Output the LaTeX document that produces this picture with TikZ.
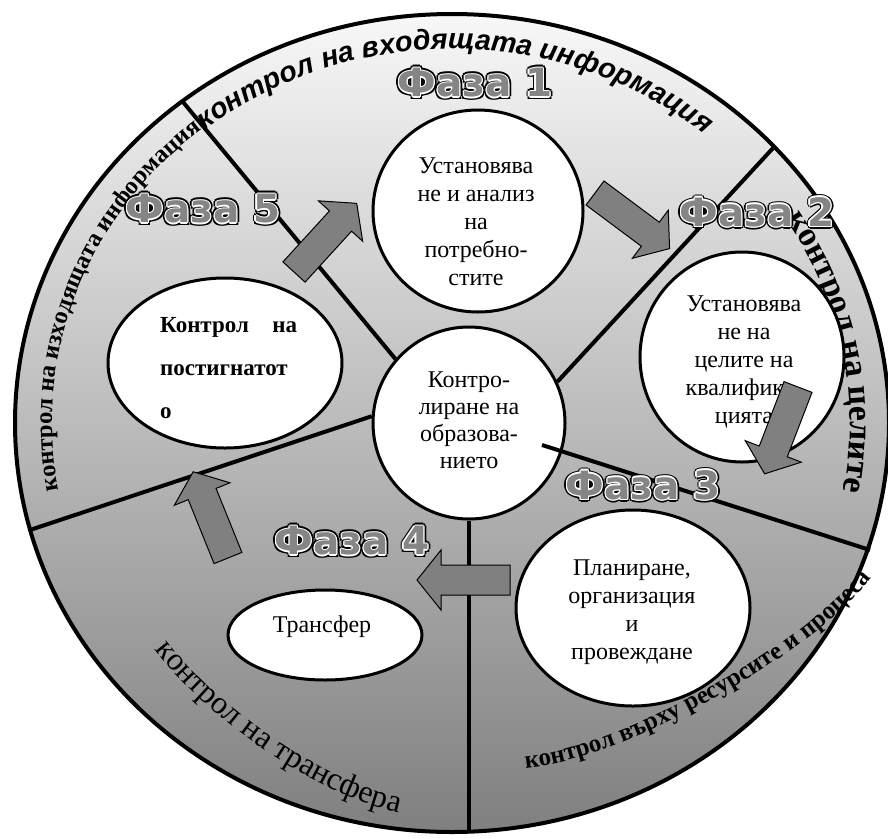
\documentclass[tikz,border=0pt]{standalone}
\usepackage{fontspec}
\setmainfont{Liberation Serif}
\newfontfamily\rimsans{Liberation Sans}
\newfontfamily\rimserif{Liberation Serif}
\newfontfamily\fazafont{DejaVu Sans}
\usetikzlibrary{shapes.geometric,decorations.text}
\pgfdeclarelayer{bg}
\pgfsetlayers{bg,main}
% outlined phase titles
\newdimen\halod
\newcommand\halo[2]{%
  \rlap{\kern\halod\textcolor{#1}{#2}}\rlap{\kern-\halod\textcolor{#1}{#2}}%
  \rlap{\raisebox{\halod}{\textcolor{#1}{#2}}}\rlap{\raisebox{-\halod}{\textcolor{#1}{#2}}}%
  \rlap{\kern.7\halod\raisebox{.7\halod}{\textcolor{#1}{#2}}}%
  \rlap{\kern-.7\halod\raisebox{.7\halod}{\textcolor{#1}{#2}}}%
  \rlap{\kern.7\halod\raisebox{-.7\halod}{\textcolor{#1}{#2}}}%
  \rlap{\kern-.7\halod\raisebox{-.7\halod}{\textcolor{#1}{#2}}}}
\newcommand\faza[1]{\halod=3pt\halo{black}{#1}\halod=1.3pt\halo{white}{#1}\textcolor{black!48}{#1}}
\begin{document}
\begin{tikzpicture}[x=1pt,y=-1pt,line join=round,
    rim/.style={line width=4pt},
    sector/.style={line width=4pt},
    faze/.style={shape=ellipse,draw,line width=3pt,fill=white,inner sep=0pt},
    fazetext/.style={align=center,inner sep=0pt,font=\fontsize{24}{28}\selectfont},
    fazatitle/.style={inner sep=0pt,font=\fontsize{39}{42}\selectfont\fazafont\bfseries},
    arrowbody/.style={fill=black!50,draw=black,line width=1pt,line join=miter},
    pics/blockarrow/.style={code={\draw[arrowbody] (0,-15)--(69,-15)--(69,-30)--(93,0)--(69,30)--(69,15)--(0,15)--cycle;}}]
\useasboundingbox (0,0) rectangle (888,838);
% the phases
\node[faze,shape=circle,minimum size=192] (ctr) at (469,423) {};
\node[faze,minimum width=210,minimum height=202] (f1) at (478,211) {};
\node[faze,minimum width=204,minimum height=210] (f2) at (742,357) {};
\node[faze,minimum width=234,minimum height=196] (f3) at (633,608) {};
\node[faze,minimum width=194,minimum height=90] (f4) at (325,635) {};
\node[faze,minimum width=234,minimum height=170] (f5) at (225,363) {};
\node[fazetext,font=\fontsize{24}{27}\selectfont] (ctrtext) at (469,420) {Контро-\\лиране на\\образова-\\нието};
\node[fazetext] (f1text) at (476,222) {Установява\\не и анализ\\на\\потребно-\\стите};
\node[fazetext] (f2text) at (744,362) {Установява\\не на\\целите на\\квалифика-\\цията};
\node[fazetext] (f3text) at (632,612) {Планиране,\\организация\\и\\провеждане};
\node[fazetext] (f4text) at (322,627) {Трансфер};
\node[align=left,inner sep=0pt,anchor=west,font=\bfseries\fontsize{23}{43}\selectfont] (f5text) at (160,368)
  {\makebox[137pt][s]{Контрол на}\\постигнатот\\о};
% disc, sectors, rim texts
\coordinate (rim1) at (183,102);
\coordinate (rim2) at (774,147);
\coordinate (rim3) at (870,550);
\coordinate (rim4) at (469,832);
\coordinate (rim5) at (30,530);
\coordinate (cut3) at (542,445);
\begin{pgfonlayer}{bg}
\draw[rim,top color=black!3,bottom color=black!50] (452,423) ellipse [x radius=437,y radius=409];
\draw[sector] (rim1) -- (ctr.139);
\draw[sector] (rim2) -- (ctr.25);
\draw[sector] (rim4) -- (ctr.south);
\draw[sector] (rim5) -- (ctr.176);
\path[decorate,decoration={text along path,text align=center,
  text={|\rimsans\fontsize{28.5}{30}\selectfont\bfseries\itshape|контрол на входящата информация}}]
  (452,423) ++(-155.5:397 and 374) arc[start angle=-155.5,end angle=-23.5,x radius=397,y radius=374];
\path[decorate,decoration={text along path,text align=center,
  text={|\rimserif\upshape\fontsize{34}{36}\selectfont\bfseries|контрол на целите}}]
  (452,423) ++(-60:398 and 374) arc[start angle=-60,end angle=38,x radius=398,y radius=374];
\path[decorate,decoration={text along path,text align=center,
  text={|\rimserif\upshape\fontsize{24.5}{26}\selectfont\bfseries|контрол на изходящата информация}}]
  (452,423) ++(-215:400 and 376) arc[start angle=-215,end angle=-105,x radius=400,y radius=376];
\path[decorate,decoration={text along path,text align=center,
  text={|\rimserif\upshape\fontsize{25}{27}\selectfont\bfseries|контрол върху ресурсите и процеса}}]
  (528,768) .. controls (628,758) and (810,655) .. (870,580);
\path[decorate,decoration={text along path,text align=center,
  text={|\rimserif\upshape\mdseries\fontsize{32}{34}\selectfont|контрол на трансфера}}]
  (148,640) .. controls (200,715) and (320,800) .. (410,815);
\end{pgfonlayer}
\draw[sector] (cut3) -- (rim3);
% flow arrows
\pic[rotate=47.6] at (294,272) {blockarrow};
\pic[rotate=-36.7] at (595,193) {blockarrow};
\pic[rotate=-111] at (798,387) {blockarrow};
\pic[rotate=180] at (510,580) {blockarrow};
\pic[rotate=112] at (228,558) {blockarrow};
% phase titles
\node[fazatitle] (t1) at (475,83) {\faza{Фаза 1}};
\node[fazatitle] (t2) at (757,212) {\faza{Фаза 2}};
\node[fazatitle] (t3) at (643,485) {\faza{Фаза 3}};
\node[fazatitle] (t4) at (352,541) {\faza{Фаза 4}};
\node[fazatitle] (t5) at (203,209) {\faza{Фаза 5}};
\end{tikzpicture}
\end{document}
